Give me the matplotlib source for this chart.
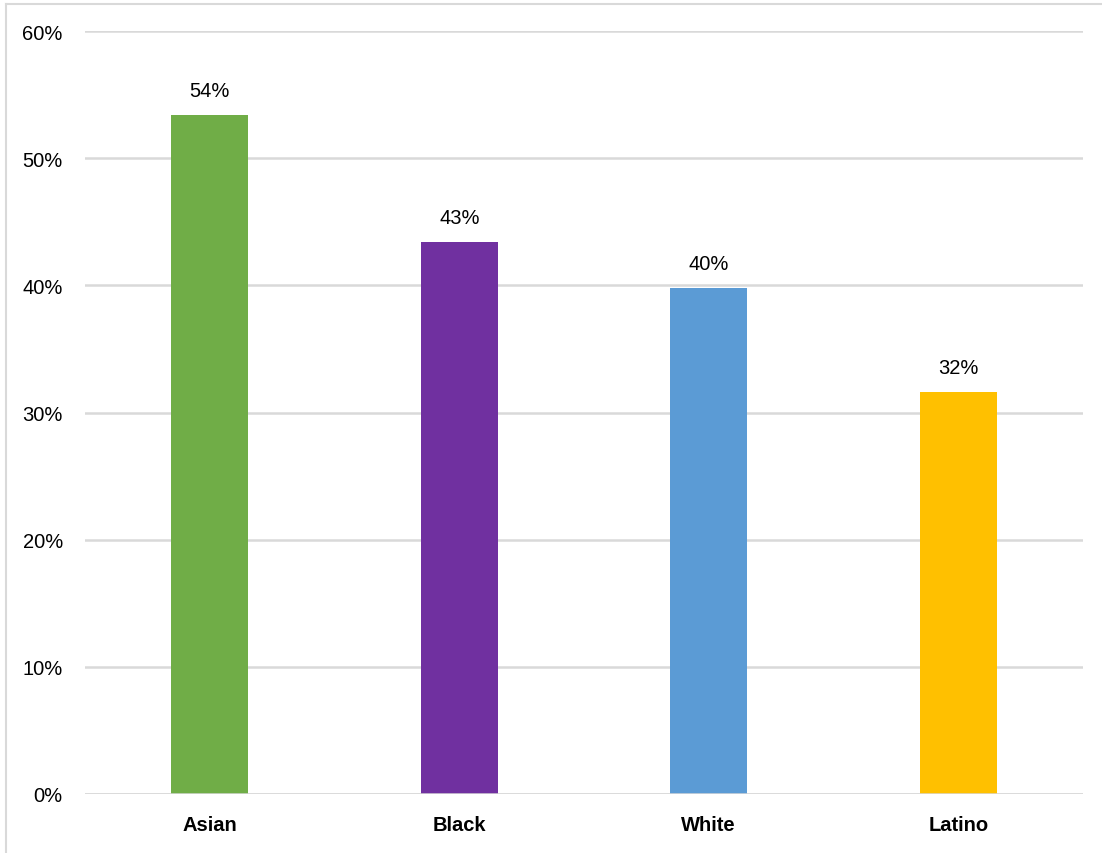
import matplotlib.pyplot as plt
from matplotlib.lines import Line2D
from matplotlib.ticker import FuncFormatter

# data
groups = ["Asian", "Black", "White", "Latino"]
shares = [53.4, 43.4, 39.8, 31.6]
labels = ["54%", "43%", "40%", "32%"]
colors = ["#70AD47", "#7030A0", "#5B9BD5", "#FFC000"]
y_ticks = [0, 10, 20, 30, 40, 50, 60]

plt.rcParams['font.family'] = ['Liberation Sans', 'DejaVu Sans']

fig = plt.figure(figsize=(11.02, 8.54), dpi=100)
ax = fig.add_axes([85 / 1102, 59 / 854, 998 / 1102, 763 / 854])

x = range(len(groups))
ax.bar(x, shares, width=0.31, color=colors, zorder=2)
for xi, v, lab in zip(x, shares, labels):
    ax.annotate(lab, (xi, v), xytext=(0, 11), textcoords="offset points",
                ha="center", va="bottom", fontsize=14.5)

ax.set_xlim(-0.5, len(groups) - 0.5)
ax.set_ylim(0, 60)
ax.set_yticks(y_ticks)
ax.yaxis.set_major_formatter(FuncFormatter(lambda v, p: f"{v:.0f}%"))
ax.set_xticks(list(x))
ax.set_xticklabels(groups, fontsize=14.5, fontweight="bold")
ax.tick_params(axis="y", labelsize=14.5, length=0, pad=16)
ax.tick_params(axis="x", length=0, pad=15)
ax.grid(axis="y", color="#D9D9D9", linewidth=1.8, zorder=0)
ax.axhline(0, color="#D9D9D9", linewidth=1.8, zorder=3)
for s in ax.spines.values():
    s.set_visible(False)

# light frame on the top and left edges, like the original chart area
fig.add_artist(Line2D([6 / 1102, 6 / 1102], [0, 1 - 5 / 854], transform=fig.transFigure,
                      color="#D9D9D9", linewidth=1.5))
fig.add_artist(Line2D([6 / 1102, 1], [1 - 5 / 854, 1 - 5 / 854], transform=fig.transFigure,
                      color="#D9D9D9", linewidth=1.5))

fig.savefig("out.png", dpi=100)
